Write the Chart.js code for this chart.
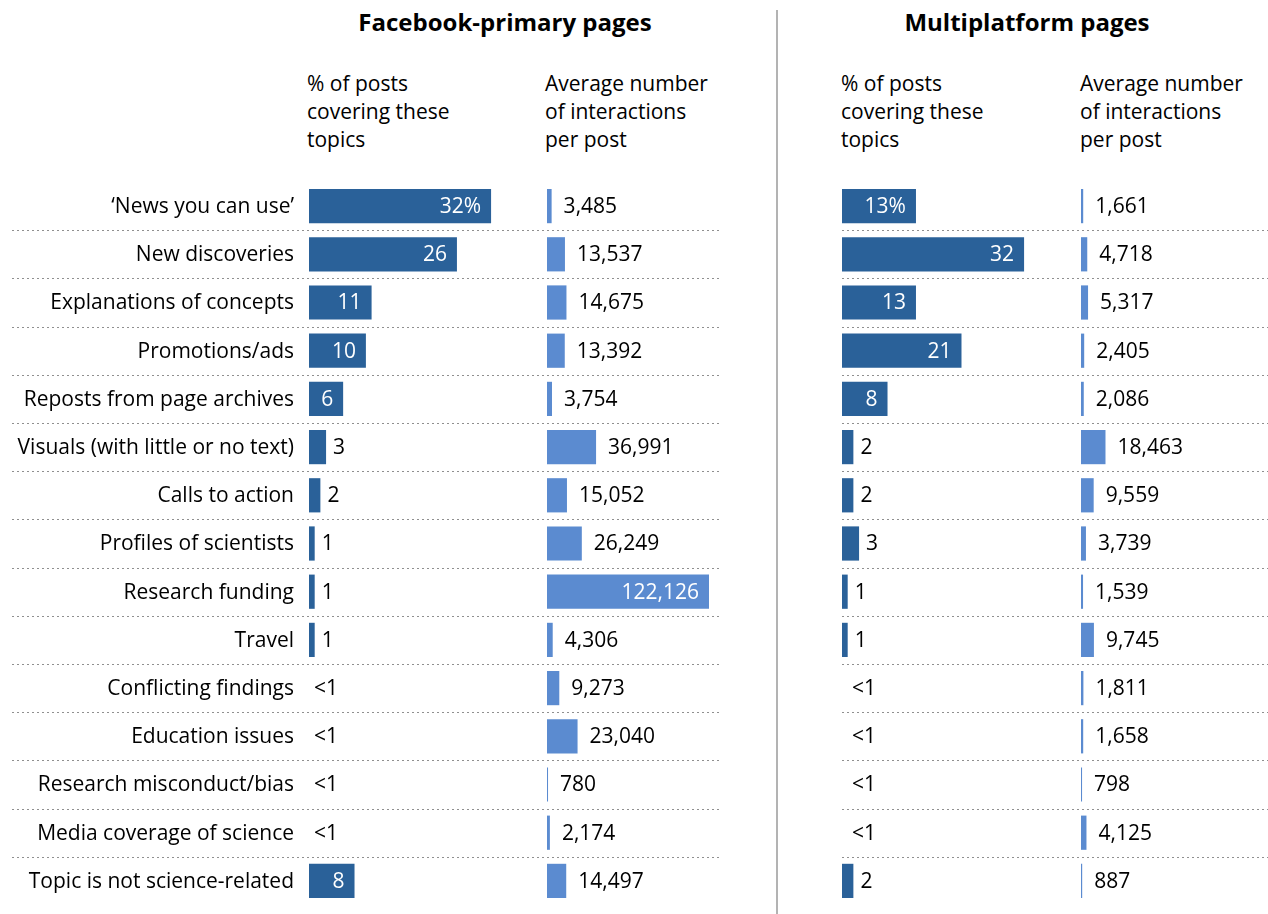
<!DOCTYPE html>
<html>
<head>
<meta charset="utf-8">
<script src="https://cdn.jsdelivr.net/npm/chart.js@4.4.1/dist/chart.umd.min.js"></script>
<style>
  body { margin: 0; background: #fff; font-family: 'Open Sans', sans-serif; color: #000; }
  #page { position: relative; width: 1268px; height: 914px; overflow: hidden; }
  .panel { position: absolute; top: 0; height: 914px; }
  .title { position: absolute; top: 5px; font-weight: bold; font-size: 24px; white-space: nowrap; transform: translateX(-50%); }
  .sub { position: absolute; top: 69px; font-size: 21px; line-height: 28px; }
  #divider { position: absolute; left: 776px; top: 10px; width: 2px; height: 904px; background: #b3b3b3; }
</style>
</head>
<body>
<div id="page">
  <div class="title" style="left:505px">Facebook-primary pages</div>
  <div class="title" style="left:1027px">Multiplatform pages</div>

  <div class="sub" style="left:307px">% of posts<br>covering these<br>topics</div>
  <div class="sub" style="left:545px">Average number<br>of interactions<br>per post</div>
  <div class="sub" style="left:841px">% of posts<br>covering these<br>topics</div>
  <div class="sub" style="left:1080px">Average number<br>of interactions<br>per post</div>

  <div id="divider"></div>

  <div class="panel" style="left:0; width:720px"><canvas id="fbShare"></canvas></div>
  <div class="panel" style="left:547px; width:228px"><canvas id="fbInt"></canvas></div>
  <div class="panel" style="left:842px; width:426px"><canvas id="mpShare"></canvas></div>
  <div class="panel" style="left:1081px; width:187px"><canvas id="mpInt"></canvas></div>
</div>

<script>
const topics = [
  '\u2018News you can use\u2019',
  'New discoveries',
  'Explanations of concepts',
  'Promotions/ads',
  'Reposts from page archives',
  'Visuals (with little or no text)',
  'Calls to action',
  'Profiles of scientists',
  'Research funding',
  'Travel',
  'Conflicting findings',
  'Education issues',
  'Research misconduct/bias',
  'Media coverage of science',
  'Topic is not science-related'
];

// null = less than 1%
const fbShare = [32, 26, 11, 10, 6, 3, 2, 1, 1, 1, null, null, null, null, 8];
const fbInteractions = [3485, 13537, 14675, 13392, 3754, 36991, 15052, 26249, 122126, 4306, 9273, 23040, 780, 2174, 14497];
const mpShare = [13, 32, 13, 21, 8, 2, 2, 3, 1, 1, null, null, null, null, 2];
const mpInteractions = [1661, 4718, 5317, 2405, 2086, 18463, 9559, 3739, 1539, 9745, 1811, 1658, 798, 4125, 887];

const DARK = '#2a6199';
const LIGHT = '#5b8bd0';
const FONT = '"Open Sans", sans-serif';
const LABEL_W = 309; // room for the topic names in the first panel

// pixels per unit, shared by both panels of the same kind
const PCT_PX = 5.69;
const INT_PX = 0.0013265;

const fmtShare = (v, i) => v === null ? '<1' : (i === 0 ? v + '%' : String(v));
const fmtInt = v => v.toLocaleString('en-US');

// dotted rules between rows + topic names
const rowRules = {
  id: 'rowRules',
  beforeDatasetsDraw(chart, args, opts) {
    if (!opts.draw) return;
    const { ctx } = chart;
    const y = chart.scales.y;
    const right = opts.to == null ? chart.width : opts.to;
    ctx.save();
    ctx.strokeStyle = '#8f8f8f';
    ctx.lineWidth = 1;
    ctx.setLineDash([2, 3]);
    for (let i = 0; i < topics.length - 1; i++) {
      const yy = Math.round((y.getPixelForValue(i) + y.getPixelForValue(i + 1)) / 2) + 0.5;
      ctx.beginPath();
      ctx.moveTo(opts.from, yy);
      ctx.lineTo(right, yy);
      ctx.stroke();
    }
    ctx.restore();

    if (opts.names) {
      ctx.save();
      ctx.font = '21px ' + FONT;
      ctx.fillStyle = '#000';
      ctx.textAlign = 'right';
      ctx.textBaseline = 'middle';
      chart.data.labels.forEach((name, i) => {
        ctx.fillText(name, chart.chartArea.left - 15, y.getPixelForValue(i) + 1);
      });
      ctx.restore();
    }
  }
};

// numbers on or next to the bars
const valueLabels = {
  id: 'valueLabels',
  afterDatasetsDraw(chart, args, opts) {
    const { ctx } = chart;
    const { x, y } = chart.scales;
    const values = chart.data.datasets[0].data;
    const base = x.getPixelForValue(0);
    ctx.save();
    ctx.font = '21px ' + FONT;
    ctx.textBaseline = 'middle';
    values.forEach((v, i) => {
      const text = opts.format(v, i);
      const yy = y.getPixelForValue(i) + 1;
      if (v === null) {
        ctx.fillStyle = '#000';
        ctx.textAlign = 'left';
        ctx.fillText(text, base + opts.nullGap, yy);
        return;
      }
      const end = x.getPixelForValue(v);
      if (end - base > opts.insideMin) {
        ctx.fillStyle = '#fff';
        ctx.textAlign = 'right';
        ctx.fillText(text, end - 10, yy);
      } else {
        ctx.fillStyle = '#000';
        ctx.textAlign = 'left';
        ctx.fillText(text, end + opts.gap, yy);
      }
    });
    ctx.restore();
  }
};

function makeChart(id, values, color, pxPerUnit, labelOpts, ruleOpts) {
  const canvas = document.getElementById(id);
  const left = ruleOpts.names ? LABEL_W : 0;
  const areaWidth = canvas.parentNode.clientWidth - left;
  return new Chart(canvas, {
    type: 'bar',
    data: {
      labels: topics,
      datasets: [{
        data: values,
        backgroundColor: color,
        barPercentage: 0.71,
        categoryPercentage: 1
      }]
    },
    options: {
      indexAxis: 'y',
      responsive: true,
      maintainAspectRatio: false,
      animation: false,
      layout: { padding: { top: 182, bottom: 9, left: left, right: 0 } },
      scales: {
        x: { display: false, min: 0, max: areaWidth / pxPerUnit },
        y: { display: false }
      },
      plugins: {
        legend: { display: false },
        tooltip: { enabled: false },
        valueLabels: labelOpts,
        rowRules: ruleOpts
      }
    },
    plugins: [rowRules, valueLabels]
  });
}

makeChart('fbShare', fbShare, DARK, PCT_PX,
  { format: fmtShare, insideMin: 25, gap: 7, nullGap: 5 },
  { draw: true, names: true, from: 12, to: 719 });

makeChart('fbInt', fbInteractions, LIGHT, INT_PX,
  { format: fmtInt, insideMin: 100, gap: 12, nullGap: 5 },
  { draw: false });

makeChart('mpShare', mpShare, DARK, PCT_PX,
  { format: fmtShare, insideMin: 25, gap: 7, nullGap: 10 },
  { draw: true, from: 0 });

makeChart('mpInt', mpInteractions, LIGHT, INT_PX,
  { format: fmtInt, insideMin: 100, gap: 12, nullGap: 5 },
  { draw: false });
</script>
</body>
</html>
